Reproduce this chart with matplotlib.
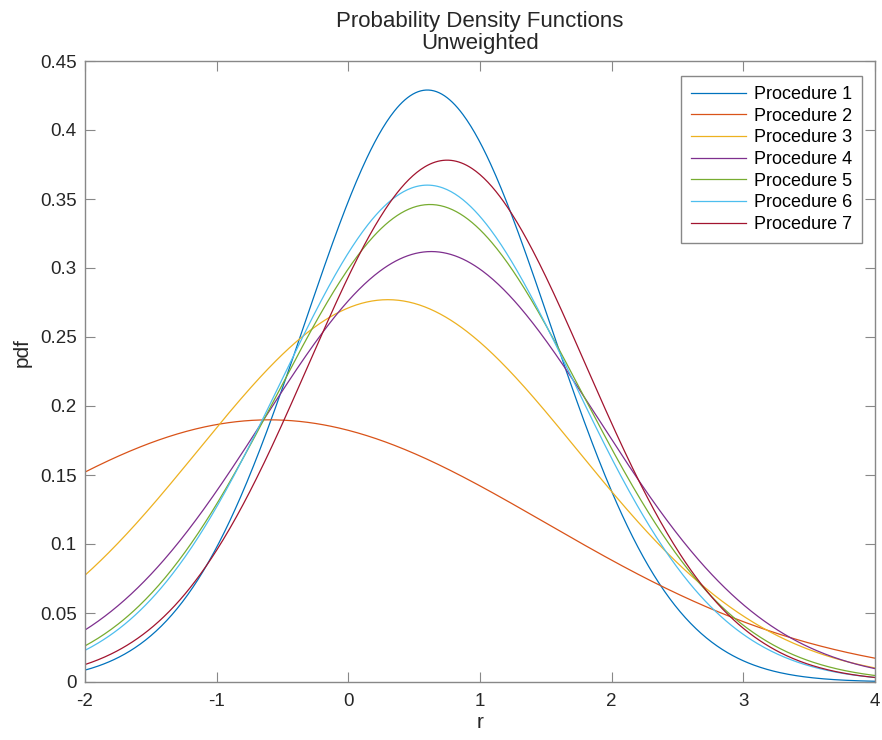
import numpy as np
import matplotlib
matplotlib.use("Agg")
import matplotlib.pyplot as plt
from matplotlib.ticker import FormatStrFormatter, MultipleLocator

plt.rcParams['font.family'] = ['Liberation Sans', 'DejaVu Sans']
plt.rcParams['axes.unicode_minus'] = False

# fitted normal parameters per procedure (mean, std dev)
labels = ['Procedure 1', 'Procedure 2', 'Procedure 3', 'Procedure 4',
          'Procedure 5', 'Procedure 6', 'Procedure 7']
means = [0.60, -0.60, 0.30, 0.63, 0.62, 0.60, 0.75]
sigmas = [0.930, 2.10, 1.44, 1.279, 1.153, 1.108, 1.055]

# MATLAB default line colours
colors = ['#0072BD', '#D95319', '#EDB120', '#7E2F8E',
          '#77AC30', '#4DBEEE', '#A2142F']

r = np.linspace(-2, 4, 601)

fig = plt.figure(figsize=(8.82, 7.40), dpi=100)
ax = fig.add_axes([85 / 882, 58 / 740, 790 / 882, 621 / 740])

for lab, mu, sd, c in zip(labels, means, sigmas, colors):
    pdf = np.exp(-0.5 * ((r - mu) / sd) ** 2) / (sd * np.sqrt(2 * np.pi))
    ax.plot(r, pdf, color=c, lw=0.9, label=lab)

ax.set_xlim(-2, 4)
ax.set_ylim(0, 0.45)
ax.xaxis.set_major_locator(MultipleLocator(1))
ax.yaxis.set_major_locator(MultipleLocator(0.05))
ax.yaxis.set_major_formatter(FormatStrFormatter('%g'))
ax.tick_params(direction='in', length=7, width=0.8, color='#888888',
               top=True, right=True, labelsize=13.5, labelcolor='#262626',
               pad=6)
ax.tick_params(axis='x', pad=8)
for s in ax.spines.values():
    s.set_color('#888888')
    s.set_linewidth(1.0)

ax.set_xlabel('r', fontsize=15, color='#262626', labelpad=2)
ax.set_ylabel('pdf', fontsize=15, color='#262626')
ax.yaxis.set_label_coords(-0.068, 0.53)
ax.set_title('Probability Density Functions\nUnweighted', fontsize=16,
             color='#262626', pad=9, linespacing=1.0)

leg = ax.legend(loc='upper right', bbox_to_anchor=(862 / 882, 1 - 76 / 740),
                bbox_transform=fig.transFigure, fontsize=13, frameon=True,
                fancybox=False, framealpha=1, edgecolor='#888888',
                handlelength=3.05, handletextpad=0.45, labelspacing=0.26,
                borderpad=0.55, borderaxespad=0)
leg.get_frame().set_linewidth(1.0)

fig.savefig('out.png', dpi=100)
